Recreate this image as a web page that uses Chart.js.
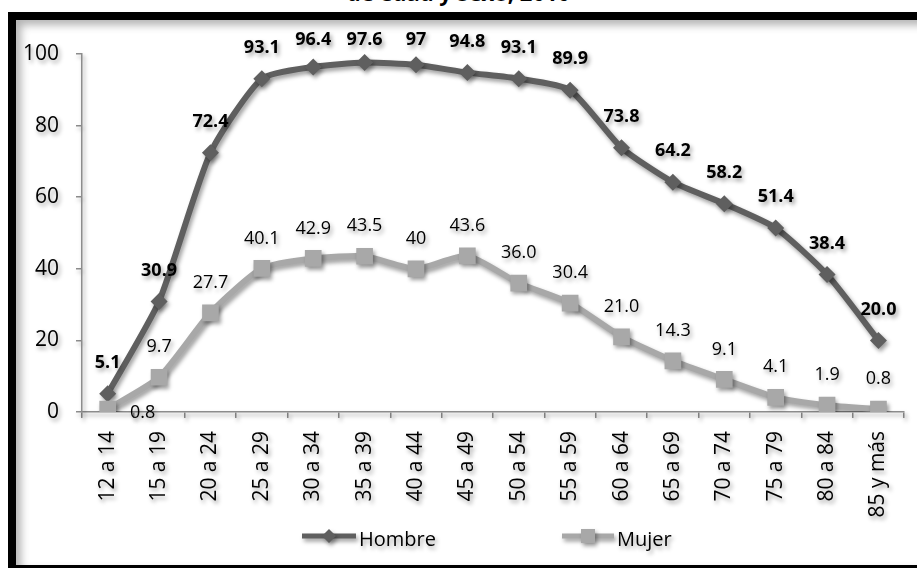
<!DOCTYPE html>
<html>
<head>
<meta charset="utf-8">
<script src="https://cdn.jsdelivr.net/npm/chart.js@4.4.1/dist/chart.umd.min.js"></script>
<style>
  html, body { margin: 0; padding: 0; background: #fff; width: 917px; height: 568px; overflow: hidden; }
  #title { position: absolute; left: 0; width: 917px; top: -23px; text-align: center;
           font: bold 22px "Open Sans", sans-serif; color: #000; white-space: nowrap; }
  #frame { position: absolute; left: 8px; top: 12px; width: 1000px; height: 545px;
           border: 8px solid #000; border-right: none;
           box-shadow: inset 5px 5px 8px rgba(0,0,0,0.30); background: #fff; }
  #wrap { position: absolute; left: 0; top: 0; width: 917px; height: 568px; }
</style>
</head>
<body>
<div id="title">de edad y sexo, 2010</div>
<div id="frame"></div>
<div id="wrap"><canvas id="c" width="917" height="568"></canvas></div>
<script>
const categories = ['12 a 14', '15 a 19', '20 a 24', '25 a 29', '30 a 34', '35 a 39', '40 a 44', '45 a 49',
                    '50 a 54', '55 a 59', '60 a 64', '65 a 69', '70 a 74', '75 a 79', '80 a 84', '85 y más'];
const hombre = [5.1, 30.9, 72.4, 93.1, 96.4, 97.6, 97, 94.8, 93.1, 89.9, 73.8, 64.2, 58.2, 51.4, 38.4, 20.0];
const mujer  = [0.8, 9.7, 27.7, 40.1, 42.9, 43.5, 40, 43.6, 36.0, 30.4, 21.0, 14.3, 9.1, 4.1, 1.9, 0.8];
const hombreLabels = ['5.1', '30.9', '72.4', '93.1', '96.4', '97.6', '97', '94.8', '93.1', '89.9', '73.8', '64.2', '58.2', '51.4', '38.4', '20.0'];
const mujerLabels  = ['0.8', '9.7', '27.7', '40.1', '42.9', '43.5', '40', '43.6', '36.0', '30.4', '21.0', '14.3', '9.1', '4.1', '1.9', '0.8'];
const seriesNames = ['Hombre', 'Mujer'];
const yMin = 0, yMax = 100, yStep = 20;

const COL_H = '#5f5f5f';
const COL_M = '#a8a8a8';
const FONT = '"Open Sans", sans-serif';

const shadowPlugin = {
  id: 'shadow',
  beforeDraw(chart) {
    const ctx = chart.ctx;
    ctx.shadowColor = 'rgba(0,0,0,0.38)';
    ctx.shadowBlur = 4;
    ctx.shadowOffsetX = 2;
    ctx.shadowOffsetY = 3;
  },
  afterDraw(chart) {
    const ctx = chart.ctx;
    ctx.shadowColor = 'rgba(0,0,0,0)';
    ctx.shadowBlur = 0; ctx.shadowOffsetX = 0; ctx.shadowOffsetY = 0;
  }
};

const labelPlugin = {
  id: 'valueLabels',
  afterDatasetsDraw(chart) {
    const ctx = chart.ctx;
    ctx.save();
    ctx.fillStyle = '#000';
    ctx.textAlign = 'center';
    ctx.textBaseline = 'middle';
    const mh = chart.getDatasetMeta(0);
    ctx.font = 'bold 18px ' + FONT;
    mh.data.forEach((pt, i) => {
      const y = Math.max(pt.y - 31, 40);
      ctx.fillText(hombreLabels[i], pt.x, y);
    });
    const mm = chart.getDatasetMeta(1);
    ctx.font = '18px ' + FONT;
    mm.data.forEach((pt, i) => {
      if (i === 0) {
        ctx.fillText(mujerLabels[i], pt.x + 35, pt.y + 4);
      } else {
        ctx.fillText(mujerLabels[i], pt.x, pt.y - 30);
      }
    });
    ctx.restore();
  }
};

const legendPlugin = {
  id: 'customLegend',
  afterDraw(chart) {
    const ctx = chart.ctx;
    ctx.save();
    ctx.shadowColor = 'rgba(0,0,0,0.38)';
    ctx.shadowBlur = 4; ctx.shadowOffsetX = 2; ctx.shadowOffsetY = 3;
    const y = 536;
    // Hombre
    ctx.strokeStyle = COL_H; ctx.lineWidth = 5;
    ctx.beginPath(); ctx.moveTo(302, y); ctx.lineTo(356, y); ctx.stroke();
    ctx.fillStyle = COL_H;
    ctx.beginPath(); ctx.moveTo(329 - 7, y); ctx.lineTo(329, y - 7); ctx.lineTo(329 + 7, y); ctx.lineTo(329, y + 7); ctx.closePath(); ctx.fill();
    // Mujer
    ctx.strokeStyle = COL_M;
    ctx.beginPath(); ctx.moveTo(562, y); ctx.lineTo(614, y); ctx.stroke();
    ctx.fillStyle = COL_M;
    ctx.fillRect(588 - 7, y - 7, 14, 14);
    ctx.fillStyle = '#000';
    ctx.font = '20px ' + FONT;
    ctx.textAlign = 'left';
    ctx.textBaseline = 'middle';
    ctx.fillText(seriesNames[0], 359, y + 4);
    ctx.fillText(seriesNames[1], 617, y + 4);
    ctx.restore();
  }
};

new Chart(document.getElementById('c'), {
  type: 'line',
  data: {
    labels: categories,
    datasets: [
      {
        label: seriesNames[0], data: hombre, order: 1,
        borderColor: COL_H, backgroundColor: COL_H, borderWidth: 6,
        pointStyle: 'rectRot', pointRadius: 8.5, pointBorderWidth: 0,
        pointBackgroundColor: COL_H, tension: 0.2, fill: false
      },
      {
        label: seriesNames[1], data: mujer, order: 0,
        borderColor: COL_M, backgroundColor: COL_M, borderWidth: 6,
        pointStyle: 'rect', pointRadius: 11.8, pointBorderWidth: 0,
        pointBackgroundColor: COL_M, tension: 0.2, fill: false
      }
    ]
  },
  options: {
    responsive: false,
    animation: false,
    devicePixelRatio: 1,
    layout: { padding: { left: 0, right: 10, top: 54, bottom: 0 } },
    plugins: { legend: { display: false }, tooltip: { enabled: false }, title: { display: false } },
    scales: {
      x: {
        offset: true,
        grid: { offset: true, drawOnChartArea: false, drawTicks: true, tickLength: 6, color: '#8c8c8c', lineWidth: 1.5 },
        border: { color: '#8c8c8c', width: 1.5 },
        ticks: { maxRotation: 90, minRotation: 90, color: '#000', font: { family: FONT, size: 21 }, padding: 13, autoSkip: false },
        afterFit(scale) { scale.height = 156; }
      },
      y: {
        min: yMin, max: yMax,
        grid: { drawOnChartArea: false, drawTicks: true, tickLength: 6, color: '#8c8c8c', lineWidth: 1.5 },
        border: { color: '#8c8c8c', width: 1.5 },
        ticks: { stepSize: yStep, color: '#000', font: { family: FONT, size: 21 }, padding: 17 },
        afterFit(scale) { scale.width = 82; }
      }
    }
  },
  plugins: [shadowPlugin, labelPlugin, legendPlugin]
});
</script>
</body>
</html>
